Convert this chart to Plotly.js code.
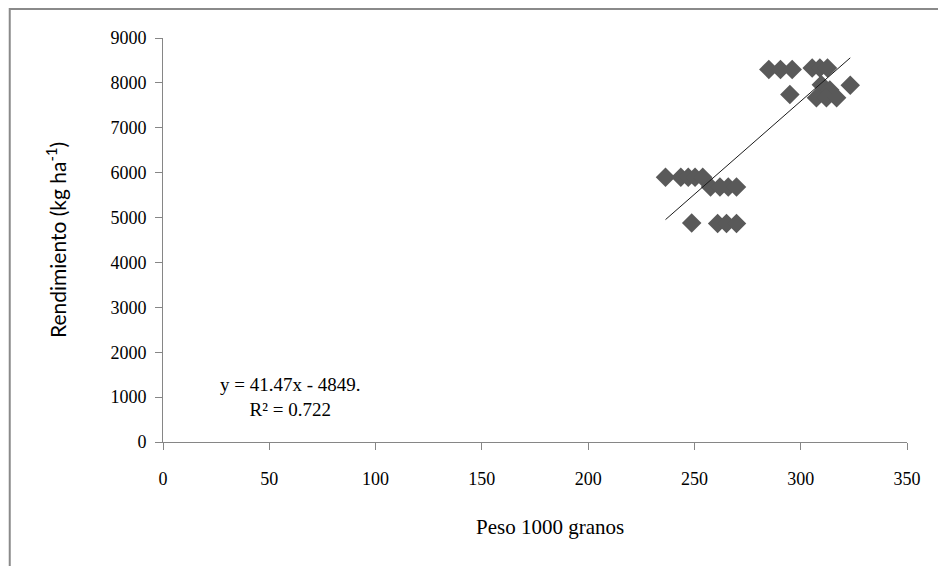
<!DOCTYPE html>
<html>
<head>
<meta charset="utf-8">
<script src="https://cdn.plot.ly/plotly-3.0.1.min.js"></script>
<style>
  html, body { margin: 0; padding: 0; background: #ffffff; }
  #chart { width: 938px; height: 566px; }
</style>
</head>
<body>
<div id="chart"></div>
<script>
// Peso de 1000 granos (g) y rendimiento (kg/ha) por parcela
const peso = [
  285.0, 290.5, 296.0, 305.4, 309.0, 312.6,
  294.9,
  309.7, 313.7, 307.4, 312.1, 316.9, 323.3,
  236.4, 243.6, 247.1, 250.3, 253.9,
  257.6, 262.0, 265.9, 269.8,
  248.7, 260.9, 265.1, 269.8
];
const rendimiento = [
  8300, 8300, 8300, 8330, 8330, 8330,
  7740,
  7960, 7840, 7670, 7670, 7670, 7950,
  5900, 5900, 5900, 5900, 5900,
  5680, 5680, 5680, 5680,
  4880, 4870, 4870, 4870
];

// Recta de regresión lineal ajustada
const pendiente = 41.47;
const intercepto = -4849;
const r2 = 0.722;

const xTicks = [0, 50, 100, 150, 200, 250, 300, 350];
const yTicks = [0, 1000, 2000, 3000, 4000, 5000, 6000, 7000, 8000, 9000];

const xMin = Math.min(...peso);
const xMax = Math.max(...peso);
const lineaX = [xMin, xMax];
const lineaY = lineaX.map(v => pendiente * v + intercepto);

const serif = 'Liberation Serif, Times New Roman, serif';
const axisGrey = '#868686';

const traces = [
  {
    x: peso, y: rendimiento,
    type: 'scatter', mode: 'markers',
    marker: { symbol: 'diamond', size: 15, color: '#595959', line: { width: 0 } },
    hoverinfo: 'x+y'
  },
  {
    x: lineaX, y: lineaY,
    type: 'scatter', mode: 'lines',
    line: { color: '#1a1a1a', width: 1 },
    hoverinfo: 'skip'
  }
];

const layout = {
  width: 938, height: 566,
  margin: { l: 163, r: 31, t: 38, b: 124 },
  paper_bgcolor: '#ffffff', plot_bgcolor: '#ffffff',
  showlegend: false,
  xaxis: {
    range: [0, 350],
    tickvals: xTicks, ticktext: xTicks.map(String),
    showgrid: false, zeroline: false,
    showline: true, linecolor: axisGrey, linewidth: 1,
    ticks: 'outside', ticklen: 7, tickcolor: axisGrey,
    ticklabelstandoff: 13,
    tickfont: { family: serif, size: 18, color: '#000000' }
  },
  yaxis: {
    range: [0, 9000],
    tickvals: yTicks, ticktext: yTicks.map(String),
    showgrid: false, zeroline: false,
    showline: true, linecolor: axisGrey, linewidth: 1,
    ticks: 'outside', ticklen: 7, tickcolor: axisGrey,
    ticklabelstandoff: 5,
    tickfont: { family: serif, size: 18, color: '#000000' },
    title: { text: 'Rendimiento (kg ha<sup>-1</sup>)', font: { family: 'Lato, Noto Sans, sans-serif', size: 21, color: '#000000' }, standoff: 38 }
  },
  annotations: [
    {
      xref: 'x', yref: 'y', x: 60, y: 1000,
      text: 'y = 41.47x - 4849.<br>R² = 0.722',
      showarrow: false, align: 'center',
      font: { family: serif, size: 19, color: '#000000' }
    },
    {
      // título del eje X
      xref: 'paper', yref: 'paper', x: 0.52, y: -0.21,
      xanchor: 'center', yanchor: 'middle',
      text: 'Peso 1000 granos',
      showarrow: false,
      font: { family: serif, size: 21, color: '#000000' }
    }
  ],
  shapes: [
    {
      type: 'rect', xref: 'paper', yref: 'paper',
      x0: -0.206, x1: 1.2, y0: -0.5, y1: 1.0715,
      line: { color: '#8a8a8a', width: 2 }, fillcolor: 'rgba(0,0,0,0)'
    }
  ]
};

Plotly.newPlot('chart', traces, layout, { displayModeBar: false, staticPlot: true });
</script>
</body>
</html>
